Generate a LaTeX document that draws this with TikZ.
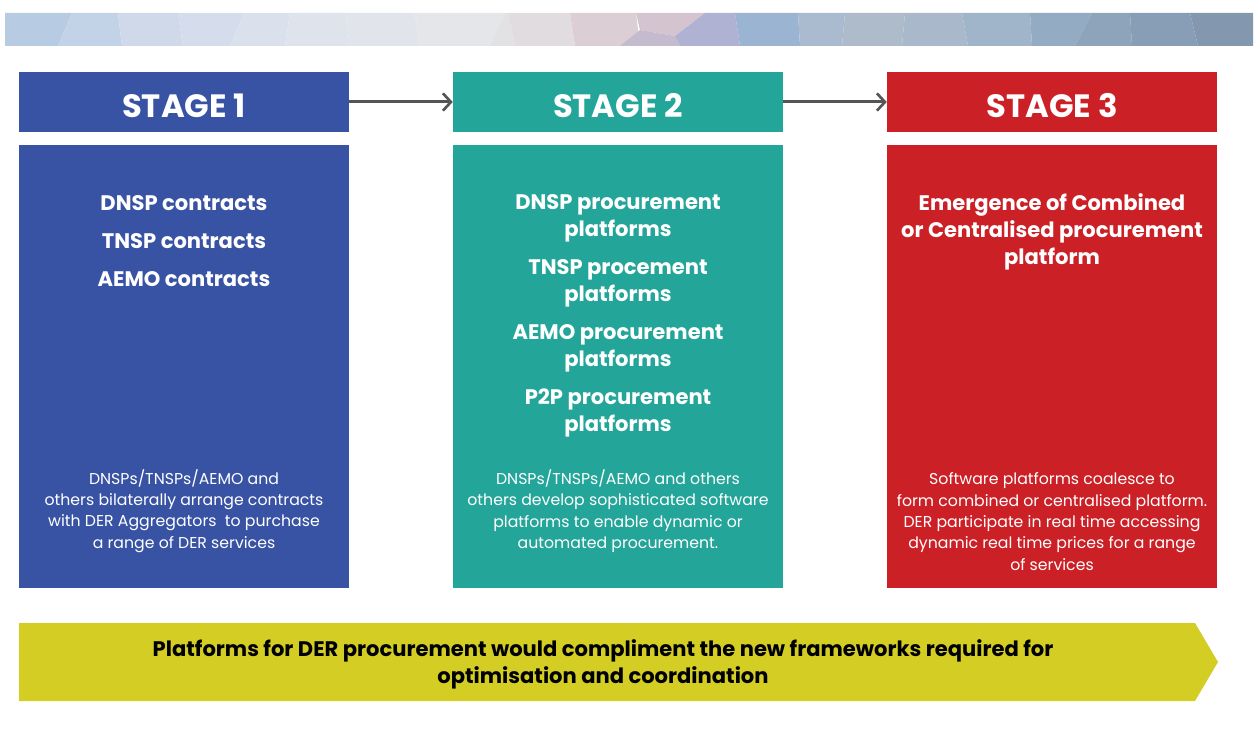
\documentclass[tikz,border=0pt]{standalone}
\usepackage{fontspec}
\setmainfont{Poppins}
\usetikzlibrary{arrows.meta}
\definecolor{sblue}{HTML}{3953A4}
\definecolor{steal}{HTML}{23A59A}
\definecolor{sred}{HTML}{CC2027}
\definecolor{syel}{HTML}{D4CD23}
\definecolor{sgray}{HTML}{555555}
\definecolor{b1}{HTML}{B7CCE2}\definecolor{b2}{HTML}{C3D3E7}\definecolor{b3}{HTML}{CFD9EA}
\definecolor{b4}{HTML}{D5DCEB}\definecolor{b5}{HTML}{DBE0ED}\definecolor{b6}{HTML}{DFE3EC}
\definecolor{b7}{HTML}{E2E4EC}\definecolor{b8}{HTML}{E5E6EA}\definecolor{b9}{HTML}{E2E1E3}
\definecolor{b10}{HTML}{E0DCDF}\definecolor{b11}{HTML}{DBCFD5}\definecolor{b12}{HTML}{D3C4CF}
\definecolor{b13}{HTML}{C4BBCF}\definecolor{b14}{HTML}{AFB2D3}\definecolor{b15}{HTML}{9BB4D1}
\definecolor{b16}{HTML}{AABBD0}\definecolor{b17}{HTML}{AEBBCB}\definecolor{b18}{HTML}{A9B8CA}
\definecolor{b19}{HTML}{A0B5CA}\definecolor{b20}{HTML}{93ABC3}\definecolor{b21}{HTML}{8DA4BA}
\definecolor{b22}{HTML}{889EB6}\definecolor{b23}{HTML}{8398AF}
\newcommand{\hdrtext}[1]{\raisebox{-12pt}[0pt][0pt]{#1}}
\tikzset{
  hdr/.style={fill=#1, draw=none, minimum width=247.5pt, minimum height=45pt, inner sep=0pt, text=white,
    font=\bfseries\fontsize{24.2}{27}\selectfont},
  bodybox/.style={fill=#1, draw=none, minimum width=247.5pt, minimum height=332.25pt, inner sep=0pt},
  ttl/.style={text=white, align=center, inner sep=0pt, font=\bfseries\fontsize{15.8}{20.25}\selectfont},
  ttlwide/.style={text=white, align=center, inner sep=0pt, font=\bfseries\fontsize{15.8}{28.5}\selectfont},
  small/.style={text=white, align=center, inner sep=0pt, font=\fontsize{11.8}{16}\selectfont},
  flow/.style={draw=sgray, line width=2.25pt, -{Straight Barb[length=6pt,width=13pt,line width=2pt]}}
}
\begin{document}
\begin{tikzpicture}[x=0.75pt,y=-0.75pt]
\useasboundingbox (0,0) rectangle (1259,731);
% banner
\fill[b1] (5,13) -- (72,13) -- (58,46) -- (5,46) -- cycle;
\fill[b2] (72,13) -- (118,13) -- (122,46) -- (58,46) -- cycle;
\fill[b3] (118,13) -- (178,13) -- (183,46) -- (122,46) -- cycle;
\fill[b4] (178,13) -- (244,13) -- (230,46) -- (183,46) -- cycle;
\fill[b5] (244,13) -- (290,13) -- (285,46) -- (230,46) -- cycle;
\fill[b6] (290,13) -- (345,13) -- (350,46) -- (285,46) -- cycle;
\fill[b7] (345,13) -- (415,13) -- (420,46) -- (350,46) -- cycle;
\fill[b8] (415,13) -- (505,13) -- (490,46) -- (420,46) -- cycle;
\fill[b9] (505,13) -- (508,13) -- (515,46) -- (490,46) -- cycle;
\fill[b10] (508,13) -- (570,13) -- (575,46) -- (515,46) -- cycle;
\fill[b11] (570,13) -- (636,13) -- (640,46) -- (575,46) -- cycle;
\fill[b12] (636,13) -- (705,13) -- (675,36) -- (640,30) -- cycle;
\fill[b13] (640,30) -- (675,36) -- (680,46) -- (620,46) -- cycle;
\fill[b14] (705,13) -- (735,13) -- (740,46) -- (680,46) -- (675,36) -- cycle;
\fill[b15] (735,13) -- (798,13) -- (800,46) -- (740,46) -- cycle;
\fill[b16] (798,13) -- (845,13) -- (842,46) -- (800,46) -- cycle;
\fill[b17] (845,13) -- (905,13) -- (902,46) -- (842,46) -- cycle;
\fill[b18] (905,13) -- (962,13) -- (968,46) -- (902,46) -- cycle;
\fill[b19] (962,13) -- (1030,13) -- (1032,46) -- (968,46) -- cycle;
\fill[b20] (1030,13) -- (1092,13) -- (1075,46) -- (1032,46) -- cycle;
\fill[b21] (1092,13) -- (1130,13) -- (1132,46) -- (1075,46) -- cycle;
\fill[b22] (1130,13) -- (1190,13) -- (1198,46) -- (1132,46) -- cycle;
\fill[b23] (1190,13) -- (1253,13) -- (1253,46) -- (1198,46) -- cycle;

% headers
\node[hdr=sblue] (h1) at (184,102) {\hdrtext{STAGE 1}};
\node[hdr=steal] (h2) at (618,102) {\hdrtext{STAGE 2}};
\node[hdr=sred]  (h3) at (1052,102) {\hdrtext{STAGE 3}};
\draw[flow] (h1.east) -- (h2.west);
\draw[flow] (h2.east) -- (h3.west);

% bodies
\node[bodybox=sblue] (b1) at (184,366.5) {};
\node[bodybox=steal] (b2) at (618,366.5) {};
\node[bodybox=sred]  (b3) at (1052,366.5) {};

\node[ttlwide] (t1) at (184,241) {DNSP contracts\\TNSP contracts\\AEMO contracts};
\node[small] (s1) at (184,511) {DNSPs/TNSPs/AEMO and\\others bilaterally arrange contracts\\with DER Aggregators\ \ to purchase\\a range of DER services};

\node[ttl] (t2a) at (618,218.5) {DNSP procurement\\platforms};
\node[ttl] (t2b) at (618,283.5) {TNSP procement\\platforms};
\node[ttl] (t2c) at (618,348) {AEMO procurement\\platforms};
\node[ttl] (t2d) at (618,412.5) {P2P procurement\\platforms};
\node[small] (s2) at (618,511) {DNSPs/TNSPs/AEMO and others\\others develop sophisticated software\\platforms to enable dynamic or\\automated procurement.};

\node[ttl] (t3) at (1052,232) {Emergence of Combined\\or Centralised procurement\\platform};
\node[small] (s3) at (1052,521.5) {Software platforms coalesce to\\form combined or centralised platform.\\DER participate in real time accessing\\dynamic real time prices for a range\\of services};

% bottom arrow
\fill[syel] (19,623) -- (1195,623) -- (1218,662) -- (1195,701) -- (19,701) -- cycle;
\node[ttl, text=black] (bt) at (603,664) {Platforms for DER procurement would compliment the new frameworks required for\\optimisation and coordination};
\end{tikzpicture}
\end{document}
